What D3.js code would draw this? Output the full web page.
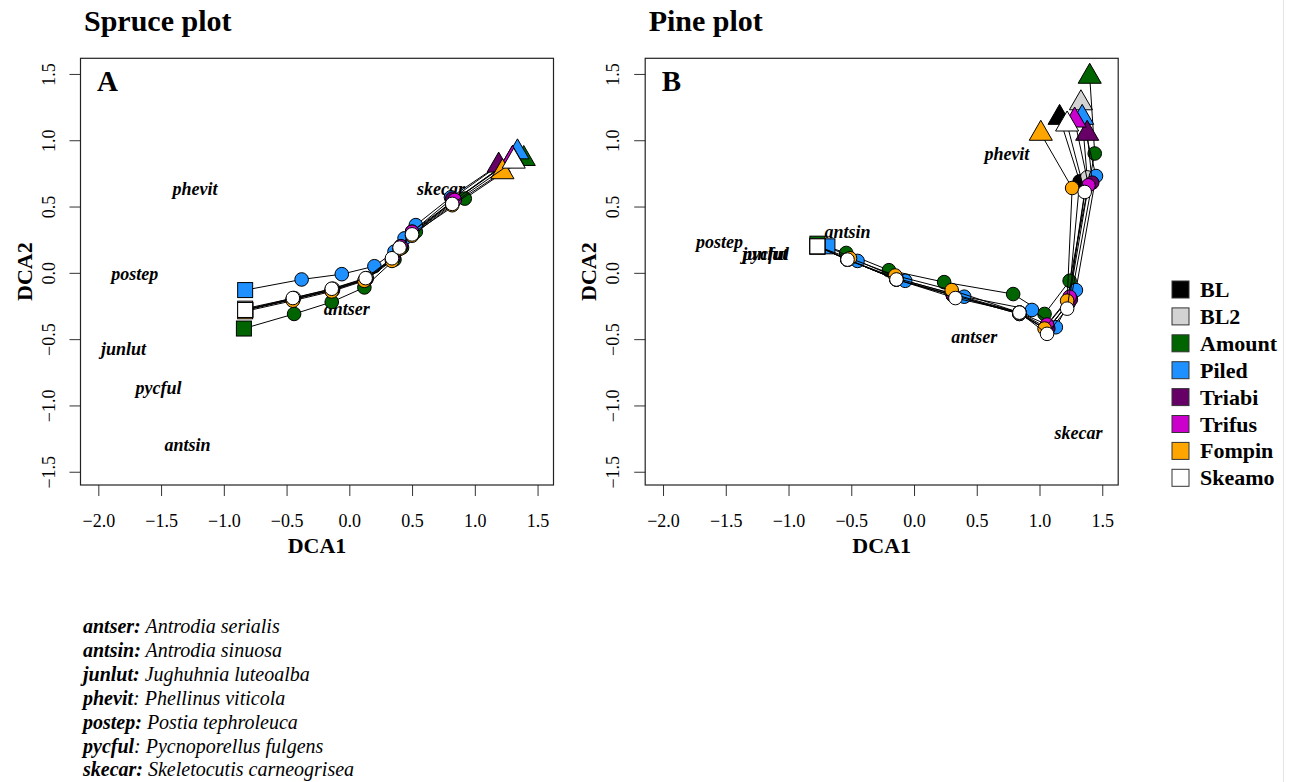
<!DOCTYPE html>
<html>
<head>
<meta charset="utf-8">
<script src="https://cdn.jsdelivr.net/npm/d3@7"></script>
<style>
  body { margin: 0; background: #fff; }
  svg { display: block; font-family: "Liberation Serif", "Times New Roman", serif; }
  svg .tick text { font-family: "Liberation Serif", "Times New Roman", serif; }
</style>
</head>
<body>
<div id="container"></div>
<script>
// treatment groups, in drawing order (last one ends on top)
const groups = ["BL", "BL2", "Amount", "Piled", "Triabi", "Trifus", "Fompin", "Skeamo"];
const groupColors = ["#000000", "#d3d3d3", "#006400", "#1e90ff", "#660066", "#cc00cc", "#ffa500", "#ffffff"];

// Spruce plot: DCA scores of each trajectory (square = first, triangle = last)
const spruceDCA1 = [
  [-0.83, -0.45, -0.13, 0.13, 0.34, 0.41, 0.50, 0.83, 1.30],
  [-0.83, -0.44, -0.13, 0.14, 0.35, 0.41, 0.51, 0.83, 1.31],
  [-0.84, -0.44, -0.14, 0.12, 0.36, 0.42, 0.53, 0.92, 1.39],
  [-0.83, -0.38, -0.06, 0.20, 0.36, 0.44, 0.53, 0.81, 1.34],
  [-0.83, -0.45, -0.14, 0.13, 0.35, 0.41, 0.50, 0.82, 1.19],
  [-0.83, -0.45, -0.14, 0.13, 0.35, 0.41, 0.50, 0.84, 1.30],
  [-0.83, -0.45, -0.14, 0.12, 0.34, 0.40, 0.50, 0.82, 1.22],
  [-0.83, -0.45, -0.14, 0.13, 0.34, 0.40, 0.50, 0.82, 1.31]
];
const spruceDCA2 = [
  [-0.28, -0.20, -0.13, -0.05, 0.10, 0.19, 0.30, 0.54, 0.86],
  [-0.27, -0.19, -0.12, -0.04, 0.11, 0.20, 0.30, 0.54, 0.86],
  [-0.42, -0.31, -0.22, -0.11, 0.10, 0.19, 0.31, 0.56, 0.86],
  [-0.13, -0.05, -0.01, 0.05, 0.16, 0.26, 0.36, 0.57, 0.91],
  [-0.28, -0.20, -0.13, -0.05, 0.11, 0.20, 0.31, 0.56, 0.81],
  [-0.28, -0.20, -0.13, -0.05, 0.11, 0.20, 0.31, 0.55, 0.86],
  [-0.29, -0.21, -0.14, -0.06, 0.09, 0.18, 0.28, 0.51, 0.76],
  [-0.28, -0.19, -0.12, -0.04, 0.11, 0.19, 0.29, 0.52, 0.84]
];

// Pine plot
const pineDCA1 = [
  [-0.77, -0.53, -0.14, 0.31, 0.84, 1.06, 1.23, 1.32, 1.16],
  [-0.77, -0.53, -0.14, 0.31, 0.84, 1.06, 1.23, 1.38, 1.33],
  [-0.77, -0.54, -0.20, 0.24, 0.79, 1.04, 1.24, 1.44, 1.40],
  [-0.69, -0.45, -0.07, 0.40, 0.94, 1.13, 1.29, 1.45, 1.34],
  [-0.77, -0.53, -0.14, 0.31, 0.84, 1.07, 1.25, 1.42, 1.38],
  [-0.77, -0.53, -0.14, 0.31, 0.84, 1.06, 1.24, 1.39, 1.28],
  [-0.77, -0.51, -0.15, 0.30, 0.84, 1.04, 1.22, 1.26, 1.01],
  [-0.77, -0.53, -0.14, 0.33, 0.84, 1.06, 1.22, 1.36, 1.22]
];
const pineDCA2 = [
  [0.20, 0.10, -0.05, -0.17, -0.31, -0.43, -0.23, 0.69, 1.17],
  [0.20, 0.10, -0.05, -0.17, -0.31, -0.43, -0.23, 0.72, 1.28],
  [0.22, 0.15, 0.02, -0.07, -0.16, -0.31, -0.06, 0.90, 1.48],
  [0.20, 0.09, -0.06, -0.18, -0.28, -0.41, -0.13, 0.73, 1.17],
  [0.20, 0.10, -0.05, -0.17, -0.30, -0.42, -0.20, 0.68, 1.05],
  [0.20, 0.10, -0.04, -0.16, -0.30, -0.39, -0.18, 0.66, 1.15],
  [0.20, 0.11, -0.02, -0.13, -0.30, -0.42, -0.21, 0.64, 1.05],
  [0.20, 0.10, -0.05, -0.19, -0.30, -0.46, -0.27, 0.61, 1.12]
];

// species scores
const spruceSpecies = ["phevit", "skecar", "postep", "antser", "junlut", "pycful", "antsin"];
const spruceSpX = [-1.23, 0.73, -1.71, -0.02, -1.80, -1.52, -1.29];
const spruceSpY = [0.63, 0.63, -0.01, -0.28, -0.58, -0.87, -1.30];
const pineSpecies = ["phevit", "antsin", "postep", "junlut", "pycful", "antser", "skecar"];
const pineSpX = [0.74, -0.53, -1.55, -1.19, -1.18, 0.48, 1.31];
const pineSpY = [0.89, 0.30, 0.23, 0.14, 0.14, -0.49, -1.21];

const axisTicks = [-2.0, -1.5, -1.0, -0.5, 0.0, 0.5, 1.0, 1.5];
const yTicks = [-1.5, -1.0, -0.5, 0.0, 0.5, 1.0, 1.5];

// footnote: code, separator, full name
const noteCodes = ["antser", "antsin", "junlut", "phevit", "postep", "pycful", "skecar"];
const noteBoldColon = [true, true, true, false, true, false, true];
const noteNames = ["Antrodia serialis", "Antrodia sinuosa", "Jughuhnia luteoalba", "Phellinus viticola",
  "Postia tephroleuca", "Pycnoporellus fulgens", "Skeletocutis carneogrisea"];

const width = 1292, height = 782;
const serif = '"Liberation Serif", "Times New Roman", serif';
const svg = d3.select("#container").append("svg")
  .attr("width", width).attr("height", height);

const fmt = d => d3.format(".1f")(d).replace("-", "\u2212");

function panel({ left, title, letter, xs, ys, spNames, spX, spY }) {
  const top = 58.3, bottom = 485, right = left + 473;
  const x = d3.scaleLinear([-2.142, 1.627], [left, right]);
  const y = d3.scaleLinear([-1.600, 1.618], [bottom, top]);

  svg.append("text").attr("x", left + 3.5).attr("y", 31)
    .attr("font-size", 30).attr("font-weight", "bold").text(title);

  // x axis
  svg.append("g").attr("transform", `translate(0,${bottom})`)
    .call(d3.axisBottom(x).tickValues(axisTicks).tickSize(11).tickFormat(fmt))
    .attr("font-family", serif).attr("font-size", 18)
    .call(g => g.select(".domain").remove())
    .call(g => g.selectAll(".tick line").attr("stroke", "#333"))
    .call(g => g.selectAll(".tick text").attr("y", 42).attr("dy", 0).attr("fill", "#000"));

  // y axis, labels parallel to the axis
  svg.append("g").attr("transform", `translate(${left},0)`)
    .call(d3.axisLeft(y).tickValues(yTicks).tickSize(11).tickFormat(fmt))
    .attr("font-family", serif).attr("font-size", 18)
    .call(g => g.select(".domain").remove())
    .call(g => g.selectAll(".tick line").attr("stroke", "#333"))
    .call(g => g.selectAll(".tick text").attr("transform", "rotate(-90)")
      .attr("x", 0).attr("y", -26).attr("dy", 0).attr("text-anchor", "middle").attr("fill", "#000"));

  svg.append("text").attr("x", (left + right) / 2).attr("y", 553)
    .attr("text-anchor", "middle").attr("font-size", 22).attr("font-weight", "bold").text("DCA1");
  svg.append("text").attr("transform", `translate(${left - 49},${(top + bottom) / 2}) rotate(-90)`)
    .attr("text-anchor", "middle").attr("font-size", 22).attr("font-weight", "bold").text("DCA2");

  svg.append("rect").attr("x", left).attr("y", top)
    .attr("width", right - left).attr("height", bottom - top)
    .attr("fill", "none").attr("stroke", "#222").attr("stroke-width", 1.2);

  svg.append("text").attr("x", left + 16.5).attr("y", top + 32.5)
    .attr("font-size", 29).attr("font-weight", "bold").text(letter);

  // species labels
  svg.append("g").attr("font-size", 18).attr("font-weight", "bold").attr("font-style", "italic")
    .selectAll("text").data(spNames).join("text")
    .attr("x", (d, i) => x(spX[i])).attr("y", (d, i) => y(spY[i]))
    .attr("dy", "0.3em").attr("text-anchor", "middle").text(d => d);

  // trajectories
  const line = d3.line().x(d => x(d[0])).y(d => y(d[1]));
  const tri = d3.symbol(d3.symbolTriangle, 231);
  groups.forEach((gname, k) => {
    const pts = xs[k].map((v, i) => [v, ys[k][i]]);
    const g = svg.append("g");
    g.append("path").attr("d", line(pts)).attr("fill", "none")
      .attr("stroke", "#000").attr("stroke-width", 1);
    const n = pts.length;
    g.append("rect")
      .attr("x", x(pts[0][0]) - 7.5).attr("y", y(pts[0][1]) - 7.5)
      .attr("width", 15).attr("height", 15)
      .attr("fill", groupColors[k]).attr("stroke", "#000");
    g.selectAll("circle").data(pts.slice(1, n - 1)).join("circle")
      .attr("cx", d => x(d[0])).attr("cy", d => y(d[1])).attr("r", 6.8)
      .attr("fill", groupColors[k]).attr("stroke", "#000");
    g.append("path").attr("d", tri())
      .attr("transform", `translate(${x(pts[n - 1][0])},${y(pts[n - 1][1])})`)
      .attr("fill", groupColors[k]).attr("stroke", "#000");
  });
}

panel({ left: 80.5, title: "Spruce plot", letter: "A", xs: spruceDCA1, ys: spruceDCA2,
  spNames: spruceSpecies, spX: spruceSpX, spY: spruceSpY });
panel({ left: 645.2, title: "Pine plot", letter: "B", xs: pineDCA1, ys: pineDCA2,
  spNames: pineSpecies, spX: pineSpX, spY: pineSpY });

// legend
const legend = svg.append("g").selectAll("g").data(groups).join("g")
  .attr("transform", (d, i) => `translate(1172,${289.5 + i * 26.9})`);
legend.append("rect").attr("x", 0).attr("y", -8.5).attr("width", 17).attr("height", 17)
  .attr("fill", (d, i) => groupColors[i]).attr("stroke", "#333");
legend.append("text").attr("x", 28).attr("y", 7.5)
  .attr("font-size", 22).attr("font-weight", "bold").text(d => d);

// footnote with species names
const note = svg.append("g").attr("font-size", 20).attr("font-style", "italic")
  .selectAll("text").data(noteCodes).join("text")
  .attr("x", 83).attr("y", (d, i) => 633 + i * 23.9);
note.append("tspan").attr("font-weight", "bold")
  .text((d, i) => noteBoldColon[i] ? d + ":" : d);
note.append("tspan").text((d, i) => (noteBoldColon[i] ? " " : ": ") + noteNames[i]);

// thin page edge on the right
svg.append("line").attr("x1", 1283.5).attr("x2", 1283.5).attr("y1", 0).attr("y2", height)
  .attr("stroke", "#e4e4e4");
</script>
</body>
</html>
